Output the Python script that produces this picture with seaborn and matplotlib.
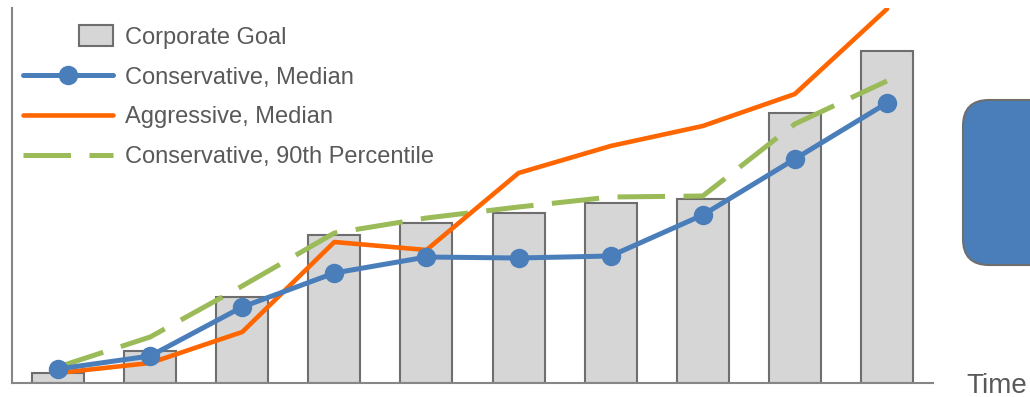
import numpy as np
import pandas as pd
import matplotlib
matplotlib.use("Agg")
import matplotlib.pyplot as plt
import seaborn as sns
from matplotlib.patches import Rectangle, FancyBboxPatch
from matplotlib.lines import Line2D
from matplotlib.legend_handler import HandlerPatch

periods = list(range(10))
corporate_goal = [10, 32, 86, 148, 160, 170, 180, 184, 270, 332]
conservative_median = [14, 27, 76, 110, 126, 125, 127, 168, 224, 280]
aggressive_median = [10, 20, 51, 141, 133, 210, 237, 257, 289, 374]
conservative_p90 = [16, 46, 97, 150, 165, 176, 186, 187, 259, 302]

labels = ["Corporate Goal", "Conservative, Median", "Aggressive, Median",
          "Conservative, 90th Percentile"]

BLUE = "#4A7EBB"
ORANGE = "#FF6600"
GREEN = "#9BBB59"
BAR_FILL = "#D6D6D6"
BAR_EDGE = "#6E6E6E"
TEXT = "#595959"
SPINE = "#868686"

sns.set_style("white")
plt.rcParams["font.family"] = ["Liberation Sans", "DejaVu Sans"]

fig = plt.figure(figsize=(10.3, 3.97), dpi=100)
ax = fig.add_axes([12 / 1030, 14 / 397, (933 - 12) / 1030, (383 - 8) / 397])

df = pd.DataFrame({"period": periods, "goal": corporate_goal})
sns.barplot(data=df, x="period", y="goal", color=BAR_FILL, saturation=1,
            edgecolor=BAR_EDGE, linewidth=1.5, width=0.565, ax=ax, zorder=1)

sns.lineplot(x=periods, y=conservative_p90, color=GREEN, lw=3.6,
             linestyle=(0, (9.5, 3.7)), ax=ax, zorder=3)
sns.lineplot(x=periods, y=aggressive_median, color=ORANGE, lw=3.3, ax=ax, zorder=4)
sns.lineplot(x=periods, y=conservative_median, color=BLUE, lw=3.6, marker="o",
             markersize=14, markeredgewidth=0, ax=ax, zorder=5)

ax.set_xlim(-0.5, 9.5)
ax.set_ylim(0, 375)
ax.set_xticks([])
ax.set_yticks([])
ax.set_xlabel("")
ax.set_ylabel("")
for s in ["top", "right"]:
    ax.spines[s].set_visible(False)
for s in ["left", "bottom"]:
    ax.spines[s].set_color(SPINE)
    ax.spines[s].set_linewidth(1.5)


class SmallBoxHandler(HandlerPatch):
    def create_artists(self, legend, orig_handle, xdescent, ydescent, width,
                       height, fontsize, trans):
        w = 0.38 * width
        h = 1.25 * height
        r = Rectangle((width - w - xdescent, (height - h) / 2 - ydescent), w, h,
                      facecolor=BAR_FILL, edgecolor=BAR_EDGE, lw=1.5,
                      transform=trans)
        return [r]


handles = [
    Rectangle((0, 0), 1, 1, facecolor=BAR_FILL, edgecolor=BAR_EDGE),
    Line2D([], [], color=BLUE, lw=3.6, marker="o", markersize=14,
           markeredgewidth=0),
    Line2D([], [], color=ORANGE, lw=3.3),
    Line2D([], [], color=GREEN, lw=3.6, linestyle=(0, (9.5, 3.7))),
]
leg = ax.legend(handles, labels, loc="upper left",
                bbox_to_anchor=(23 / 1030, 1 - 27 / 397),
                bbox_transform=fig.transFigure, frameon=False, fontsize=17,
                handlelength=3.8, handletextpad=0.5, labelspacing=0.75,
                borderpad=0, borderaxespad=0,
                handler_map={Rectangle: SmallBoxHandler()})
for t in leg.get_texts():
    t.set_color(TEXT)

# overlay in pixel coordinates for the annotation elements
ov = fig.add_axes([0, 0, 1, 1], zorder=-1)
ov.set_xlim(0, 1030)
ov.set_ylim(397, 0)
ov.axis("off")
box = FancyBboxPatch((963, 100), 120, 165,
                     boxstyle="round,pad=0,rounding_size=26",
                     facecolor=BLUE, edgecolor="#6E6E6E", lw=1.5)
ov.add_patch(box)
ov.text(966, 393, "Time", fontsize=20, color=TEXT, ha="left", va="baseline")

fig.savefig("out.png", dpi=100)
